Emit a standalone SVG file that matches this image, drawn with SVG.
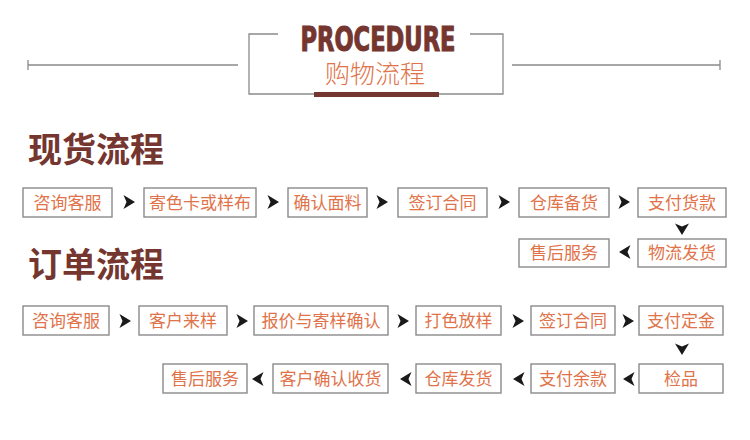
<svg xmlns="http://www.w3.org/2000/svg" xmlns:xlink="http://www.w3.org/1999/xlink" width="750" height="440" viewBox="0 0 750 440">
<style>
.bx{fill:#fff;stroke:#8a8a8a;stroke-width:1.4}
.t{font-family:"Noto Sans CJK SC","Noto Sans",sans-serif;font-size:17px;fill:#e0734a;text-anchor:middle}
.h{font-family:"Noto Sans CJK SC",sans-serif;font-size:34px;font-weight:bold;fill:#74362f}
.ln{stroke:#8a8a8a;stroke-width:1.3;fill:none}
.ar{fill:#1a1a1a}
</style>
<defs>
<path id="a" d="M-5.5,-7 L6,0 L-5.5,7 L-2.5,0 Z"/>
</defs>
<rect width="750" height="440" fill="#fff"/>
<g id="header">
<path class="ln" d="M28,65 H238 M28,60 V70 M512,65 H720 M720,60 V70"/>
<path class="ln" d="M278,34 H249 V94 H503 V34 H470"/>
<rect x="314" y="92" width="125" height="5" fill="#74362f"/>
<text x="378" y="51" font-family="'DejaVu Sans Condensed','Liberation Sans Narrow',sans-serif" font-weight="bold" font-size="33" fill="#74362f" stroke="#74362f" stroke-width="1" text-anchor="middle" textLength="155" lengthAdjust="spacingAndGlyphs">PROCEDURE</text>
<text x="375" y="83" font-family="'Noto Sans CJK SC',sans-serif" font-size="25" fill="#e0734a" text-anchor="middle" font-weight="300">购物流程</text>
</g>
<text class="h" x="28" y="162">现货流程</text>
<text class="h" x="28" y="277">订单流程</text>
<g id="n1"><rect class="bx" x="23" y="188" width="89" height="29"/><text class="t" x="67.5" y="208.5">咨询客服</text></g>
<g id="n2"><rect class="bx" x="144" y="188" width="112" height="29"/><text class="t" x="200" y="208.5">寄色卡或样布</text></g>
<g id="n3"><rect class="bx" x="288" y="188" width="79" height="29"/><text class="t" x="327.5" y="208.5">确认面料</text></g>
<g id="n4"><rect class="bx" x="398" y="188" width="89" height="29"/><text class="t" x="442.5" y="208.5">签订合同</text></g>
<g id="n5"><rect class="bx" x="519" y="188" width="90" height="29"/><text class="t" x="564" y="208.5">仓库备货</text></g>
<g id="n6"><rect class="bx" x="638" y="188" width="88" height="29"/><text class="t" x="682" y="208.5">支付货款</text></g>
<g id="n7"><rect class="bx" x="638" y="239" width="88" height="28"/><text class="t" x="682" y="259">物流发货</text></g>
<g id="n8"><rect class="bx" x="519" y="239" width="90" height="28"/><text class="t" x="564" y="259">售后服务</text></g>
<g id="m1"><rect class="bx" x="23" y="306" width="86" height="29"/><text class="t" x="66" y="326.5">咨询客服</text></g>
<g id="m2"><rect class="bx" x="139" y="306" width="88" height="29"/><text class="t" x="183" y="326.5">客户来样</text></g>
<g id="m3"><rect class="bx" x="254" y="306" width="134" height="29"/><text class="t" x="321" y="326.5">报价与寄样确认</text></g>
<g id="m4"><rect class="bx" x="416" y="306" width="85" height="29"/><text class="t" x="458.5" y="326.5">打色放样</text></g>
<g id="m5"><rect class="bx" x="531" y="306" width="84" height="29"/><text class="t" x="573" y="326.5">签订合同</text></g>
<g id="m6"><rect class="bx" x="639" y="306" width="84" height="29"/><text class="t" x="681" y="326.5">支付定金</text></g>
<g id="m7"><rect class="bx" x="639" y="364" width="84" height="29"/><text class="t" x="681" y="384.5">检品</text></g>
<g id="m8"><rect class="bx" x="531" y="364" width="84" height="29"/><text class="t" x="573" y="384.5">支付余款</text></g>
<g id="m9"><rect class="bx" x="416" y="364" width="85" height="29"/><text class="t" x="458.5" y="384.5">仓库发货</text></g>
<g id="m10"><rect class="bx" x="273" y="364" width="115" height="29"/><text class="t" x="330.5" y="384.5">客户确认收货</text></g>
<g id="m11"><rect class="bx" x="163" y="364" width="84" height="29"/><text class="t" x="205" y="384.5">售后服务</text></g>
<g id="connectors" class="ar">
<use xlink:href="#a" transform="translate(129,202)"/>
<use xlink:href="#a" transform="translate(273,202)"/>
<use xlink:href="#a" transform="translate(382,202)"/>
<use xlink:href="#a" transform="translate(504,202)"/>
<use xlink:href="#a" transform="translate(624,202)"/>
<use xlink:href="#a" transform="translate(682,229) rotate(90)"/>
<use xlink:href="#a" transform="translate(625,252) rotate(180)"/>
<use xlink:href="#a" transform="translate(125,321)"/>
<use xlink:href="#a" transform="translate(242,321)"/>
<use xlink:href="#a" transform="translate(403,321)"/>
<use xlink:href="#a" transform="translate(518,321)"/>
<use xlink:href="#a" transform="translate(628,321)"/>
<use xlink:href="#a" transform="translate(682,349) rotate(90)"/>
<use xlink:href="#a" transform="translate(629,379) rotate(180)"/>
<use xlink:href="#a" transform="translate(519,379) rotate(180)"/>
<use xlink:href="#a" transform="translate(406,379) rotate(180)"/>
<use xlink:href="#a" transform="translate(258,379) rotate(180)"/>
</g>
</svg>
